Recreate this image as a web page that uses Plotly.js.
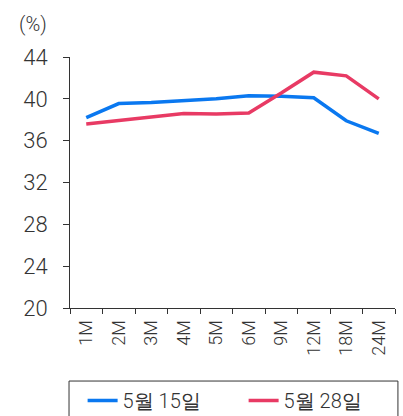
<!DOCTYPE html>
<html>
<head>
<meta charset="utf-8">
<script src="https://cdn.plot.ly/plotly-3.0.1.min.js"></script>
<style>html,body{margin:0;padding:0;background:#fff;}#chart{width:403px;height:416px;}</style>
</head>
<body>
<div id="chart"></div>
<script>
const categories = ["1M","2M","3M","4M","5M","6M","9M","12M","18M","24M"];
const seriesMay15 = [38.2, 39.55, 39.65, 39.8, 40.0, 40.3, 40.25, 40.1, 37.9, 36.7];
const seriesMay28 = [37.6, 37.95, 38.25, 38.6, 38.55, 38.65, 40.55, 42.55, 42.2, 40.0];
const seriesNames = ["5월 15일", "5월 28일"];
const yTicks = [20, 24, 28, 32, 36, 40, 44];

const font = "Roboto, Liberation Sans, Arial, sans-serif";
const traces = [
  {x: categories, y: seriesMay15, name: seriesNames[0], type: "scatter", mode: "lines",
   line: {color: "#0A78F0", width: 3.5}},
  {x: categories, y: seriesMay28, name: seriesNames[1], type: "scatter", mode: "lines",
   line: {color: "#E83A64", width: 3.5}}
];
const layout = {
  width: 403, height: 416,
  margin: {l: 70, r: 8, t: 57, b: 108},
  paper_bgcolor: "#fff", plot_bgcolor: "#fff",
  font: {family: font, color: "#333", size: 18, weight: 300},
  showlegend: true,
  legend: {orientation: "h", xref: "container", yref: "container", x: 0.205, xanchor: "left", y: 0.084, yanchor: "top",
    bgcolor: "rgba(0,0,0,0)", borderwidth: 0, font: {size: 20, color: "#333", weight: 300},
    entrywidth: 116, entrywidthmode: "pixels"},
  shapes: [{type: "rect", xref: "paper", yref: "paper", x0: -0.003, x1: 1.009, y0: -0.5, y1: -0.291,
    line: {color: "#333", width: 1}, fillcolor: "rgba(0,0,0,0)", layer: "below"}],
  xaxis: {type: "category", range: [-0.5, 9.5], showline: true, linecolor: "#333", linewidth: 1,
    ticks: "outside", ticklen: 5, tickcolor: "#333", tickson: "boundaries", automargin: false,
    ticklabelstandoff: 4,
    tickangle: -90, showgrid: false, zeroline: false, tickfont: {size: 18, color: "#333", weight: 300}},
  yaxis: {range: [20, 44], tickvals: yTicks, showline: true, linecolor: "#333", linewidth: 1, automargin: false,
    ticks: "outside", ticklen: 6, tickcolor: "#333", showgrid: false, zeroline: false, ticklabelstandoff: 11,
    tickfont: {size: 22, color: "#333", weight: 300}},
  annotations: [{text: "(%)", xref: "paper", yref: "paper", x: -0.115, y: 1.131, xanchor: "center", yanchor: "middle",
    showarrow: false, font: {size: 20, color: "#333", weight: 300}}]
};
Plotly.newPlot("chart", traces, layout, {displayModeBar: false, staticPlot: true});
</script>
</body>
</html>
